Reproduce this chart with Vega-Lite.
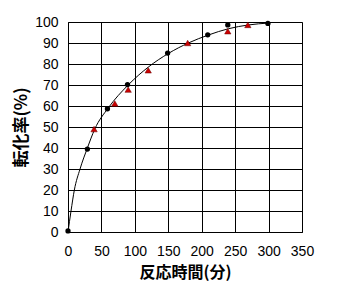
{
  "$schema": "https://vega.github.io/schema/vega-lite/v6.json",
  "width": 234,
  "height": 210,
  "autosize": {"type": "none"},
  "padding": {"left": 68, "top": 22, "right": 45, "bottom": 64},
  "background": "white",
  "config": {
    "view": {"stroke": "#808080", "strokeWidth": 1},
    "axis": {
      "grid": true,
      "gridColor": "#000000",
      "gridOpacity": 1,
      "gridWidth": 1,
      "domainColor": "#000000",
      "ticks": false,
      "labelOverlap": false,
      "labelFlush": false,
      "labelFont": "Liberation Sans",
      "labelFontSize": 14,
      "labelColor": "#000000",
      "titleFont": "Noto Sans CJK JP",
      "titleFontWeight": "bold",
      "titleColor": "#000000"
    }
  },
  "datasets": {
    "curve": [
      {"t": 0, "c": 0},
      {"t": 4.5, "c": 10},
      {"t": 9.5, "c": 20},
      {"t": 18, "c": 30},
      {"t": 29, "c": 40},
      {"t": 40, "c": 49},
      {"t": 60, "c": 59},
      {"t": 90, "c": 70},
      {"t": 120, "c": 78.5},
      {"t": 150, "c": 85},
      {"t": 180, "c": 90},
      {"t": 210, "c": 93.8},
      {"t": 240, "c": 96.8},
      {"t": 270, "c": 98.6},
      {"t": 300, "c": 99.5}
    ],
    "black": [
      {"t": 0, "c": 0.5},
      {"t": 29, "c": 39.5},
      {"t": 59, "c": 58.7},
      {"t": 89, "c": 70.2},
      {"t": 149, "c": 85.2},
      {"t": 209, "c": 93.9},
      {"t": 239, "c": 98.6},
      {"t": 299, "c": 99.3}
    ],
    "red": [
      {"t": 39, "c": 49},
      {"t": 70, "c": 61.2},
      {"t": 90, "c": 67.8},
      {"t": 120, "c": 77},
      {"t": 179, "c": 90},
      {"t": 239, "c": 95.6},
      {"t": 269, "c": 98.6}
    ]
  },
  "encoding": {
    "x": {
      "field": "t",
      "type": "quantitative",
      "scale": {"domain": [0, 350], "nice": false, "zero": true},
      "axis": {
        "values": [0, 50, 100, 150, 200, 250, 300, 350],
        "title": "反応時間(分)",
        "titleFontSize": 16,
        "labelPadding": 12,
        "titlePadding": 6
      }
    },
    "y": {
      "field": "c",
      "type": "quantitative",
      "scale": {"domain": [0, 100], "nice": false},
      "axis": {
        "values": [0, 10, 20, 30, 40, 50, 60, 70, 80, 90, 100],
        "title": "転化率(%)",
        "titleFontSize": 17,
        "labelPadding": 10,
        "titlePadding": 4
      }
    }
  },
  "layer": [
    {
      "data": {"name": "curve"},
      "mark": {"type": "line", "color": "#000000", "strokeWidth": 1, "interpolate": "monotone"}
    },
    {
      "data": {"name": "black"},
      "mark": {"type": "point", "shape": "circle", "filled": true, "color": "#000000", "size": 28, "opacity": 1}
    },
    {
      "data": {"name": "red"},
      "mark": {"type": "point", "shape": "triangle-up", "filled": true, "fill": "#cc0000", "stroke": "#660000", "strokeWidth": 0.5, "size": 40, "opacity": 1}
    }
  ]
}
